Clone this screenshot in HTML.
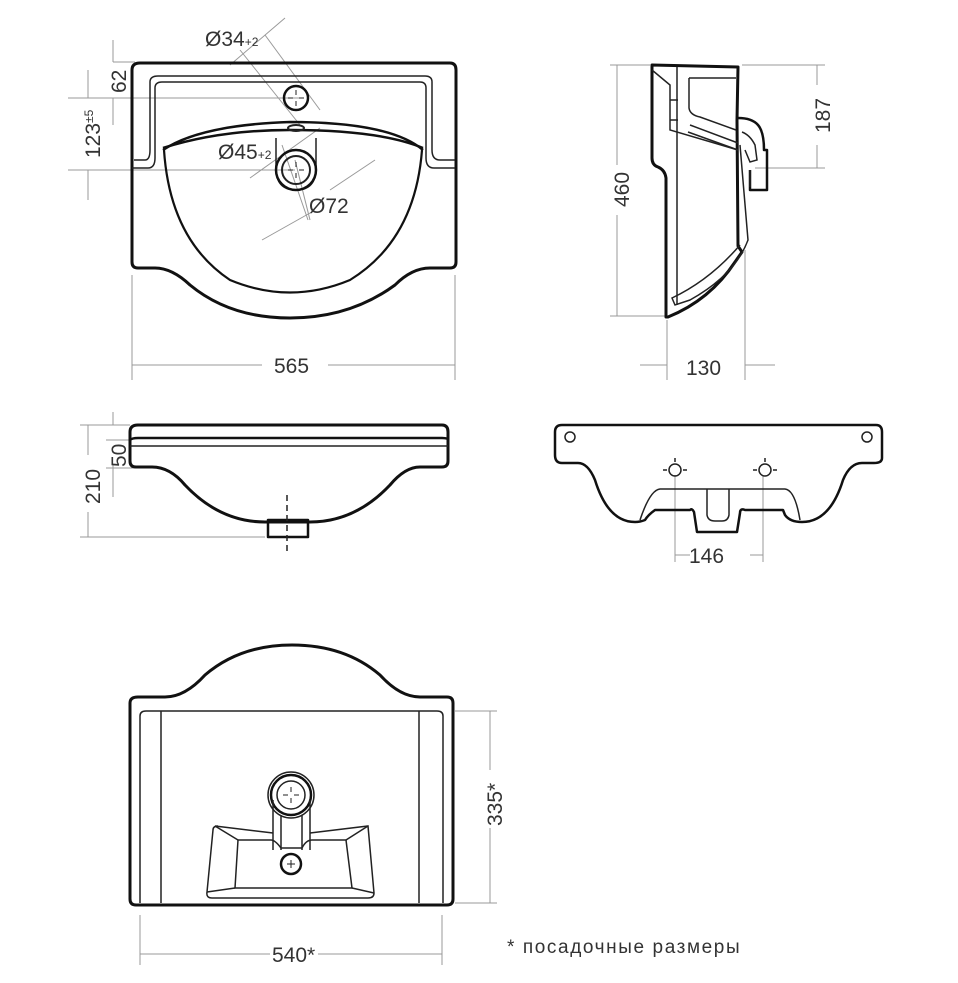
<!DOCTYPE html>
<html><head><meta charset="utf-8"><style>
html,body{margin:0;padding:0;background:#fff;}
svg{display:block;}
text{font-family:"Liberation Sans",sans-serif;fill:#333;}
</style></head><body>
<svg width="958" height="983" viewBox="0 0 958 983" xmlns="http://www.w3.org/2000/svg">
<g fill="none" stroke="#999" stroke-width="1">
<line x1="132" y1="275" x2="132" y2="380"/><line x1="455" y1="275" x2="455" y2="380"/>
<line x1="132" y1="365" x2="262" y2="365"/><line x1="328" y1="365" x2="455" y2="365"/>
<line x1="113" y1="62" x2="135" y2="62"/><line x1="113" y1="62" x2="113" y2="40"/><line x1="113" y1="98" x2="113" y2="125"/>
<line x1="68" y1="98" x2="300" y2="98"/><line x1="68" y1="170" x2="295" y2="170"/>
<line x1="88" y1="70" x2="88" y2="98"/><line x1="88" y1="170" x2="88" y2="200"/>
<line x1="230" y1="65" x2="285" y2="18"/><line x1="265" y1="35" x2="320" y2="110"/><line x1="240" y1="50" x2="300" y2="125"/>
<line x1="250" y1="178" x2="320" y2="128"/><line x1="295" y1="160" x2="310" y2="220"/>
<line x1="262" y1="240" x2="310" y2="213"/><line x1="330" y1="190" x2="375" y2="160"/><line x1="282" y1="145" x2="308" y2="220"/>
<line x1="610" y1="65" x2="650" y2="65"/><line x1="610" y1="316" x2="665" y2="316"/>
<line x1="617" y1="65" x2="617" y2="165"/><line x1="617" y1="215" x2="617" y2="316"/>
<line x1="742" y1="65" x2="825" y2="65"/><line x1="755" y1="168" x2="825" y2="168"/>
<line x1="817" y1="65" x2="817" y2="85"/><line x1="817" y1="145" x2="817" y2="168"/>
<line x1="667" y1="320" x2="667" y2="380"/><line x1="745" y1="250" x2="745" y2="380"/>
<line x1="640" y1="365" x2="667" y2="365"/><line x1="745" y1="365" x2="775" y2="365"/>
<line x1="80" y1="425" x2="130" y2="425"/><line x1="80" y1="537" x2="265" y2="537"/>
<line x1="88" y1="425" x2="88" y2="455"/><line x1="88" y1="512" x2="88" y2="537"/>
<line x1="113" y1="412" x2="113" y2="425"/><line x1="113" y1="465" x2="113" y2="497"/><line x1="106" y1="468" x2="158" y2="468"/><line x1="106" y1="440" x2="130" y2="440"/>
<line x1="675" y1="475" x2="675" y2="562"/><line x1="763" y1="475" x2="763" y2="562"/>
<line x1="675" y1="555" x2="690" y2="555"/><line x1="750" y1="555" x2="763" y2="555"/>
<line x1="455" y1="711" x2="497" y2="711"/><line x1="455" y1="903" x2="497" y2="903"/>
<line x1="490" y1="711" x2="490" y2="770"/><line x1="490" y1="828" x2="490" y2="903"/>
<line x1="140" y1="915" x2="140" y2="965"/><line x1="442" y1="915" x2="442" y2="965"/>
<line x1="140" y1="954" x2="270" y2="954"/><line x1="318" y1="954" x2="442" y2="954"/>
</g>
<g fill="none" stroke="#111" stroke-width="3" stroke-linejoin="round">
<path d="M140 63 H450 Q456 63 456 70 V262 Q456 268 450 268 H430 Q412 268 395 285 Q350 318 290 318 Q230 318 190 285 Q172 268 155 268 H138 Q132 268 132 262 V70 Q132 63 140 63 Z"/>
<path d="M652 65 L738 67 L737 120 L738 246 L742 252 L735 262 Q710 300 668 317 L666 317 L666 178 Q665 170 658 167 Q652 165 652 158 Z"/>
<path d="M738 118 Q752 118 758 125 Q764 132 764 150 L767 150 L767 190 L750 190 L750 170" stroke-width="2.5"/>
<path d="M138 425 H442 Q448 425 448 432 V461 Q448 467 442 467 H420 Q405 467 390 485 Q355 522 310 522 H265 Q220 522 185 485 Q170 467 152 467 H136 Q130 467 130 461 V432 Q130 425 138 425 Z"/>
<path d="M130 440 Q132 438 138 438 H442 Q448 438 448 440" stroke-width="2.5"/>
<rect x="268" y="520" width="40" height="17" stroke-width="2.5"/>
<path d="M562 425 H876 Q882 425 882 432 V458 Q882 463 874 463 H862 Q850 463 843 480 Q830 522 802 522 Q790 522 785 515 L783 510 L745 510 Q740 508 740 513 L737 532 H697 L694 512 Q692 508 690 510 L655 510 Q648 515 645 520 Q640 522 635 522 Q608 522 595 480 Q588 463 578 463 H562 Q555 463 555 455 V432 Q555 425 562 425 Z" stroke-width="2.5"/>
<path d="M138 697 H165 Q185 697 205 675 Q240 645 292 645 Q345 645 380 675 Q400 697 420 697 H447 Q453 697 453 703 V899 Q453 905 447 905 H136 Q130 905 130 899 V703 Q130 697 138 697 Z"/>
</g>
<g fill="none" stroke="#222" stroke-width="1.5">
<path d="M134 160 H145 Q150 160 150 150 V82 Q150 76 158 76 H425 Q432 76 432 82 V150 Q432 160 440 160 H455"/>
<path d="M132 168 H148 Q155 168 155 158 V88 Q155 82 162 82 H420 Q426 82 426 88 V158 Q426 168 434 168 H455"/>
<path d="M163 150 Q200 125 290 122 Q390 122 423 150" stroke-width="2.5" stroke="#111"/>
<path d="M163 148 Q220 130 290 130 Q380 130 423 148" stroke-width="2.5" stroke="#111"/>
<path d="M164 150 Q170 240 230 280 Q290 305 350 280 Q415 240 422 150" stroke-width="2.2" stroke="#111"/>
<ellipse cx="296" cy="128" rx="8" ry="3" stroke-width="2"/>
<path d="M276 138 V168 Q276 190 296 190 Q316 190 316 168 V138"/>
<circle cx="296" cy="98" r="12" stroke-width="2.5" stroke="#111"/>
<circle cx="296" cy="170" r="20" stroke-width="2.5" stroke="#111"/>
<circle cx="296" cy="170" r="14" stroke-width="2"/>
<path d="M296 90 v5 M296 101 v5 M288 98 h5 M299 98 h5 M296 162 v5 M296 173 v5 M288 170 h5 M299 170 h5" stroke-width="1"/>
<line x1="677" y1="67" x2="677" y2="305"/>
<path d="M689 78 H736 M689 78 V108 Q690 115 700 117 L736 130"/>
<path d="M652 70 L670 85 V130 L738 150 M670 100 H678 M670 120 H678"/>
<path d="M690 125 L738 143 M688 132 L738 150"/>
<path d="M742 132 Q750 135 755 145 L757 160 L750 162 L745 150 M740 145 L748 240 Q735 275 690 300 L675 305 L672 298 Q710 280 740 245"/>
<path d="M750 170 V187"/>
<line x1="130" y1="446" x2="448" y2="446"/>
<circle cx="570" cy="437" r="5"/><circle cx="867" cy="437" r="5"/>
<circle cx="675" cy="470" r="6"/><circle cx="765" cy="470" r="6"/>
<path d="M663 470 h4 M683 470 h4 M675 458 v4 M753 470 h4 M773 470 h4 M765 458 v4"/>
<path d="M640 520 Q650 490 660 489 H785 Q795 490 800 520"/>
<path d="M707 489 V515 Q708 521 715 521 H722 Q728 521 729 515 V489"/>
<path d="M140 903 V716 Q140 711 146 711 H437 Q443 711 443 716 V903"/>
<line x1="161" y1="711" x2="161" y2="903"/><line x1="419" y1="711" x2="419" y2="903"/>
<circle cx="291" cy="795" r="23"/><circle cx="291" cy="795" r="20" stroke-width="2.5" stroke="#111"/><circle cx="291" cy="795" r="14"/>
<path d="M283 795 h5 M294 795 h5 M291 787 v5 M291 798 v5" stroke-width="1"/>
<path d="M273 800 V850 M310 800 V850 M281 815 V850 M302 815 V850"/>
<path d="M215 826 L273 833 M310 833 L368 826 L374 893 Q374 898 368 898 H212 Q206 898 207 892 L213 830 Q213 826 218 826"/>
<path d="M238 840 H271 Q275 840 281 848 H302 Q306 840 312 840 H346 L352 888 H235 Z"/>
<path d="M215 826 L238 840 M368 826 L346 840 M207 892 L235 888 M374 893 L352 888"/>
<circle cx="291" cy="864" r="10" stroke-width="2.5" stroke="#111"/>
<path d="M291 860 v8 M287 864 h8" stroke-width="1"/>
</g>
<line x1="287" y1="495" x2="287" y2="555" stroke="#222" stroke-width="1.5" stroke-dasharray="6,4"/>
<g font-size="21">
<text x="274" y="373">565</text>
<text x="686" y="375">130</text>
<text x="689" y="563">146</text>
<text x="272" y="962">540*</text>
<text x="205" y="46">Ø34<tspan font-size="12">+2</tspan></text>
<text x="218" y="159">Ø45<tspan font-size="12">+2</tspan></text>
<text x="309" y="213">Ø72</text>
<text transform="translate(126,93) rotate(-90)">62</text>
<text transform="translate(100,158) rotate(-90)">123<tspan font-size="12" dy="-7">±5</tspan></text>
<text transform="translate(629,207) rotate(-90)">460</text>
<text transform="translate(830,133) rotate(-90)">187</text>
<text transform="translate(100,504) rotate(-90)">210</text>
<text transform="translate(126,467) rotate(-90)">50</text>
<text transform="translate(502,826) rotate(-90)">335*</text>
<text x="507" y="953" font-size="19" letter-spacing="1.6">*  посадочные размеры</text>
</g>
</svg>
</body></html>
